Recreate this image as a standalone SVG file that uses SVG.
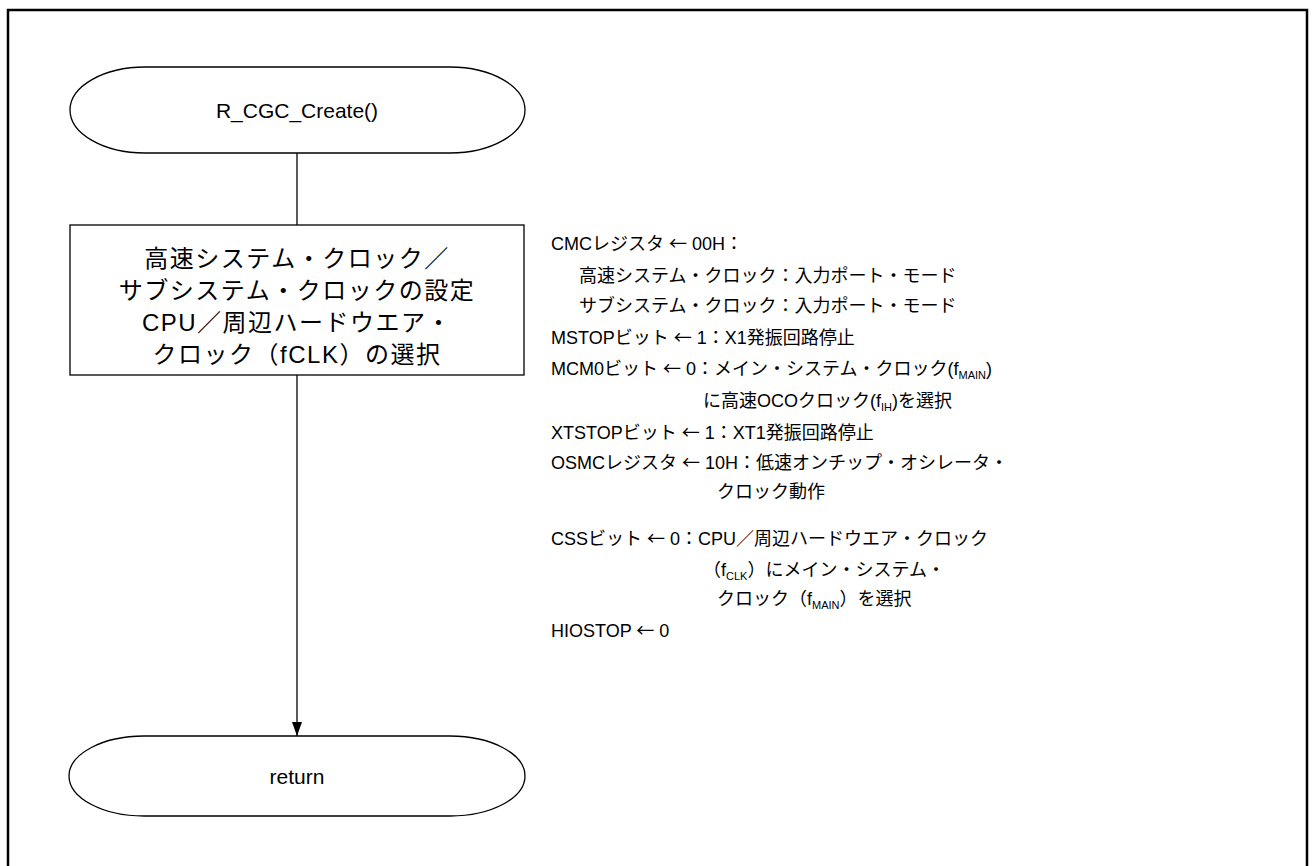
<svg xmlns="http://www.w3.org/2000/svg" width="1315" height="866" viewBox="0 0 1315 866">
<defs>
<marker id="arr" markerWidth="14" markerHeight="10" refX="14" refY="5" orient="auto" markerUnits="userSpaceOnUse" viewBox="0 0 14 10">
<path d="M0,0 L14,5 L0,10 Z" fill="#000"/>
</marker>
</defs>
<style>
.shape{fill:#fff;stroke:#000;stroke-width:1.3}
.conn{fill:none;stroke:#000;stroke-width:1.3}
.t{font-family:"Liberation Sans","Noto Sans CJK JP",sans-serif;fill:#000}
.bt{font-size:24px;text-anchor:middle;letter-spacing:1.5px}
.tt{font-size:21px;text-anchor:middle}
.nt{font-size:18px}
.sub{font-size:11px}
.ar{font-family:"Noto Sans CJK JP",sans-serif}
</style>
<rect width="1315" height="866" fill="#fff"/>
<path d="M8,866 V10 H1307 V866" fill="none" stroke="#000" stroke-width="2.5"/>
<g id="connectors">
<line class="conn" x1="297" y1="153" x2="297" y2="225"/>
<line class="conn" x1="297" y1="375" x2="297" y2="736" marker-end="url(#arr)"/>
</g>
<g id="start">
<rect class="shape" x="70" y="67" width="455" height="86" rx="75" ry="43"/>
<text class="t tt" x="297" y="118">R_CGC_Create()</text>
</g>
<g id="process">
<rect class="shape" x="70" y="225" width="454" height="150"/>
<text class="t bt" x="297" y="267">高速システム・クロック／</text>
<text class="t bt" x="297" y="299">サブシステム・クロックの設定</text>
<text class="t bt" x="297" y="331">CPU／周辺ハードウエア・</text>
<text class="t bt" x="297" y="363">クロック（fCLK）の選択</text>
</g>
<g id="end">
<rect class="shape" x="69" y="736" width="456" height="80" rx="75" ry="40"/>
<text class="t tt" x="297" y="784">return</text>
</g>
<g id="note">
<text class="t nt" x="551" y="250">CMCレジスタ <tspan class="ar">←</tspan> 00H：</text>
<text class="t nt" x="579" y="282">高速システム・クロック：入力ポート・モード</text>
<text class="t nt" x="579" y="312">サブシステム・クロック：入力ポート・モード</text>
<text class="t nt" x="551" y="344">MSTOPビット <tspan class="ar">←</tspan> 1：X1発振回路停止</text>
<text class="t nt" x="551" y="375">MCM0ビット <tspan class="ar">←</tspan> 0：メイン・システム・クロック(f<tspan class="sub" dy="4">MAIN</tspan><tspan dy="-4">)</tspan></text>
<text class="t nt" x="703" y="407">に高速OCOクロック(f<tspan class="sub" dy="4">IH</tspan><tspan dy="-4">)を選択</tspan></text>
<text class="t nt" x="551" y="439">XTSTOPビット <tspan class="ar">←</tspan> 1：XT1発振回路停止</text>
<text class="t nt" x="551" y="469">OSMCレジスタ <tspan class="ar">←</tspan> 10H：低速オンチップ・オシレータ・</text>
<text class="t nt" x="717" y="498">クロック動作</text>
<text class="t nt" x="551" y="545">CSSビット <tspan class="ar">←</tspan> 0：CPU／周辺ハードウエア・クロック</text>
<text class="t nt" x="703" y="576">（f<tspan class="sub" dy="4">CLK</tspan><tspan dy="-4">）にメイン・システム・</tspan></text>
<text class="t nt" x="717" y="605">クロック（f<tspan class="sub" dy="4">MAIN</tspan><tspan dy="-4">）を選択</tspan></text>
<text class="t nt" x="551" y="637">HIOSTOP <tspan class="ar">←</tspan> 0</text>
</g>
</svg>
